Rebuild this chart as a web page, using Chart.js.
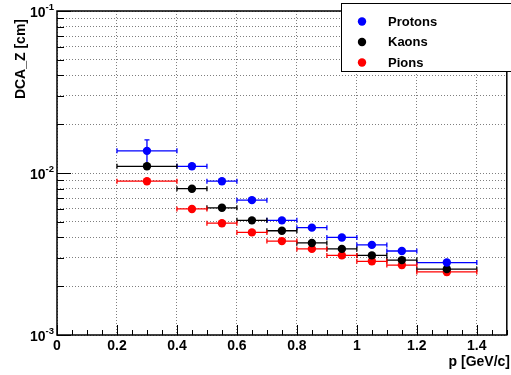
<!DOCTYPE html>
<html>
<head>
<meta charset="utf-8">
<script src="https://cdn.jsdelivr.net/npm/chart.js@4/dist/chart.umd.min.js"></script>
<style>
  html, body { margin: 0; padding: 0; background: #fff; }
  #wrap { width: 511px; height: 375px; position: relative; }
</style>
</head>
<body>
<div id="wrap"><canvas id="dcaChart" width="511" height="375"></canvas></div>
<script>
// momentum bins
const pMid  = [0.3, 0.45, 0.55, 0.65, 0.75, 0.85, 0.95, 1.05, 1.15, 1.3];
const pLow  = [0.2, 0.4, 0.5, 0.6, 0.7, 0.8, 0.9, 1.0, 1.1, 1.2];
const pHigh = [0.4, 0.5, 0.6, 0.7, 0.8, 0.9, 1.0, 1.1, 1.2, 1.4];

// DCA_Z values [cm]
const protons = [0.0137, 0.0110, 0.0089, 0.0068, 0.0051, 0.0046, 0.0040, 0.0036, 0.0033, 0.0028];
const kaons   = [0.0110, 0.0080, 0.0061, 0.0051, 0.0044, 0.0037, 0.0034, 0.0031, 0.0029, 0.00255];
const pions   = [0.0089, 0.0060, 0.0049, 0.0043, 0.0038, 0.0034, 0.0031, 0.00285, 0.0027, 0.00245];

const protonErr = [0.0023, 0.0003, 0.0002, 0.0002, 0.0001, 0.0001, 0.0001, 0.0001, 0.0001, 0.0001];
const kaonErr   = [0.0003, 0.0002, 0.0002, 0.0001, 0.0001, 0.0001, 0.0001, 0.0001, 0.0001, 0.0001];
const pionErr   = [0.0002, 0.0002, 0.0001, 0.0001, 0.0001, 0.0001, 0.0001, 0.0001, 0.0001, 0.0001];

// axis ticks
const xMajorTicks = [0, 0.2, 0.4, 0.6, 0.8, 1.0, 1.2, 1.4];
const xTickLabels = ['0', '0.2', '0.4', '0.6', '0.8', '1', '1.2', '1.4'];
const yDecades = [0.001, 0.01, 0.1];
const yDecadeExp = ['-3', '-2', '-1'];
const yGridTicks = [0.001, 0.002, 0.003, 0.004, 0.005, 0.006, 0.007, 0.008, 0.009,
                    0.01, 0.02, 0.03, 0.04, 0.05, 0.06, 0.07, 0.08, 0.09, 0.1];

const seriesNames  = ['Protons', 'Kaons', 'Pions'];
const seriesValues = [protons, kaons, pions];
const seriesErrors = [protonErr, kaonErr, pionErr];
const seriesColors = ['#0000ff', '#000000', '#ff0000'];

const FONT = '"Liberation Sans", Arial, Helvetica, sans-serif';

const datasets = seriesNames.map((name, i) => ({
  label: name,
  data: pMid.map((x, j) => ({ x: x, y: seriesValues[i][j], xl: pLow[j], xh: pHigh[j], e: seriesErrors[i][j] })),
  backgroundColor: seriesColors[i],
  borderColor: seriesColors[i],
  pointRadius: 4.2,
  pointBorderWidth: 0,
  showLine: false,
}));

const rootStyle = {
  id: 'rootStyle',
  beforeDatasetsDraw(chart) {
    const ctx = chart.ctx;
    const xs = chart.scales.x, ys = chart.scales.y;
    ctx.save();
    chart.data.datasets.forEach(ds => {
      ctx.strokeStyle = ds.borderColor;
      ctx.lineWidth = 1.3;
      ds.data.forEach(d => {
        const px = xs.getPixelForValue(d.x);
        const py = ys.getPixelForValue(d.y);
        const x1 = xs.getPixelForValue(d.xl), x2 = xs.getPixelForValue(d.xh);
        const y1 = ys.getPixelForValue(d.y + d.e), y2 = ys.getPixelForValue(d.y - d.e);
        ctx.beginPath();
        ctx.moveTo(x1, py); ctx.lineTo(x2, py);
        ctx.moveTo(x1, py - 2.5); ctx.lineTo(x1, py + 2.5);
        ctx.moveTo(x2, py - 2.5); ctx.lineTo(x2, py + 2.5);
        ctx.moveTo(px, y1); ctx.lineTo(px, y2);
        ctx.moveTo(px - 2.5, y1); ctx.lineTo(px + 2.5, y1);
        ctx.moveTo(px - 2.5, y2); ctx.lineTo(px + 2.5, y2);
        ctx.stroke();
      });
    });
    ctx.restore();
  },
  afterDraw(chart) {
    const ctx = chart.ctx;
    const xs = chart.scales.x, ys = chart.scales.y;
    const a = chart.chartArea;
    ctx.save();
    // frame
    ctx.strokeStyle = '#000';
    ctx.lineWidth = 1.5;
    ctx.strokeRect(a.left, a.top, a.right - a.left, a.bottom - a.top);

    // inner ticks on x axis
    ctx.lineWidth = 1;
    ctx.beginPath();
    for (let k = 0; k <= 30; k++) {
      const v = k * 0.05;
      const px = Math.round(xs.getPixelForValue(v)) + 0.5;
      const len = (k % 4 === 0) ? 10 : 5;
      ctx.moveTo(px, a.bottom); ctx.lineTo(px, a.bottom - len);
    }
    // inner ticks on y axis
    yGridTicks.forEach(v => {
      const py = Math.round(ys.getPixelForValue(v)) + 0.5;
      const len = yDecades.includes(v) ? 14 : 7;
      ctx.moveTo(a.left, py); ctx.lineTo(a.left + len, py);
    });
    ctx.stroke();

    // x tick labels
    ctx.fillStyle = '#000';
    ctx.font = 'bold 14px ' + FONT;
    ctx.textAlign = 'center';
    ctx.textBaseline = 'middle';
    xMajorTicks.forEach((v, i) => {
      ctx.fillText(xTickLabels[i], xs.getPixelForValue(v), a.bottom + 11);
    });

    // y tick labels 10^n
    yDecades.forEach((v, i) => {
      const py = ys.getPixelForValue(v);
      ctx.font = 'bold 14px ' + FONT;
      ctx.textAlign = 'right';
      ctx.textBaseline = 'middle';
      ctx.fillText('10', 45.5, py + 2);
      ctx.font = 'bold 9.5px ' + FONT;
      ctx.textAlign = 'left';
      ctx.fillText(yDecadeExp[i], 45.5, py - 3.5);
    });

    // axis titles
    ctx.font = 'bold 14px ' + FONT;
    ctx.textAlign = 'right';
    ctx.textBaseline = 'middle';
    ctx.fillText('p [GeV/c]', 510, 362);
    ctx.save();
    ctx.translate(21, 19);
    ctx.rotate(-Math.PI / 2);
    ctx.fillText('DCA_Z [cm]', 0, 0);
    ctx.restore();

    // legend box
    ctx.fillStyle = '#fff';
    ctx.fillRect(341, 3, 175, 69);
    ctx.strokeStyle = '#000';
    ctx.lineWidth = 1;
    ctx.strokeRect(341.5, 3.5, 175, 68);
    seriesNames.forEach((name, i) => {
      const cy = 21.5 + i * 20.5;
      ctx.fillStyle = seriesColors[i];
      ctx.beginPath();
      ctx.arc(362, cy, 4.2, 0, Math.PI * 2);
      ctx.fill();
      ctx.fillStyle = '#000';
      ctx.font = 'bold 13px ' + FONT;
      ctx.textAlign = 'left';
      ctx.textBaseline = 'middle';
      ctx.fillText(name, 388, cy + 0.5);
    });
    ctx.restore();
  }
};

const ctx = document.getElementById('dcaChart').getContext('2d');
const dcaChart = new Chart(ctx, {
  type: 'scatter',
  data: { datasets: datasets },
  options: {
    responsive: false,
    animation: false,
    layout: { padding: { left: 57, right: 1, top: 11, bottom: 40 } },
    plugins: {
      legend: { display: false },
      tooltip: { enabled: false },
    },
    scales: {
      x: {
        type: 'linear',
        min: 0,
        max: 1.5,
        afterBuildTicks: (axis) => { axis.ticks = xMajorTicks.map(v => ({ value: v })); },
        ticks: { display: false },
        grid: { color: 'rgba(0,0,0,0.5)', lineWidth: 1, drawTicks: false },
        border: { display: false, dash: [1, 2] },
      },
      y: {
        type: 'logarithmic',
        min: 0.001,
        max: 0.1,
        afterBuildTicks: (axis) => { axis.ticks = yGridTicks.map(v => ({ value: v })); },
        ticks: { display: false },
        grid: { color: 'rgba(0,0,0,0.5)', lineWidth: 1, drawTicks: false },
        border: { display: false, dash: [1, 2] },
      },
    },
  },
  plugins: [rootStyle],
});
</script>
</body>
</html>
